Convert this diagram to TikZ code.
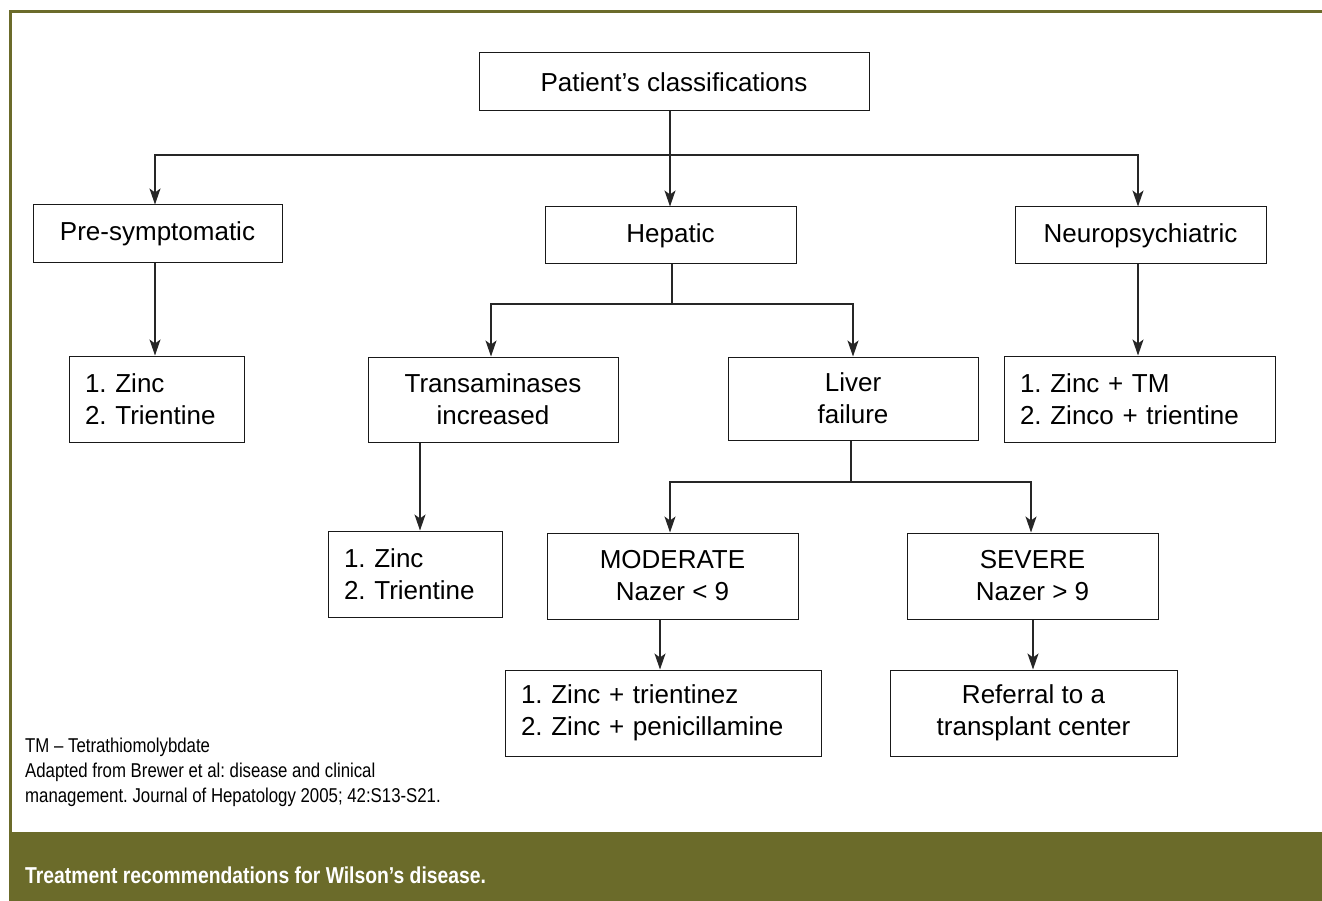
\documentclass[tikz,border=0pt]{standalone}
\usepackage{fontspec}
\setmainfont{Liberation Sans}
\newfontfamily\condfont[FakeStretch=0.84]{Liberation Sans}
\usetikzlibrary{arrows.meta}
\definecolor{olive}{HTML}{6B6B2A}
\frenchspacing
\tikzset{
  box/.style={draw=black!90, line width=1pt, align=center, font=\frenchspacing\fontsize{26}{32}\selectfont, inner sep=0pt, anchor=center},
  listbox/.style={box, align=left, inner xsep=16pt, text width=#1},
  conn/.style={line width=1.2pt, draw=black!85},
  arr/.style={conn, -{Stealth[length=16pt,width=11pt,inset=4pt]}},
  note/.style={font=\frenchspacing\condfont\fontsize{20}{25}\selectfont, anchor=north west, align=left, inner sep=0pt}
}
\begin{document}
\begin{tikzpicture}[x=1pt,y=-1pt]
\useasboundingbox (0,0) rectangle (1322,901);
% frame
\fill[white] (0,0) rectangle (1322,901);
\draw[olive, line width=2.5pt] (10.5,901) -- (10.5,11.5) -- (1322,11.5);
\fill[olive] (9,832) rectangle (1322,901);
\node[note, text=white, font=\condfont\bfseries\fontsize{23}{28}\selectfont, anchor=west] (cap) at (25,875) {Treatment recommendations for Wilson’s disease.};
% nodes
\node[box, minimum width=390pt, minimum height=58pt] (pc) at (674,82) {Patient’s classifications};
\node[box, minimum width=249pt, minimum height=58pt] (pre) at (157.5,234) {Pre-symptomatic};
\node[box, minimum width=251pt, minimum height=57pt] (hep) at (670.5,235.5) {Hepatic};
\node[box, minimum width=251pt, minimum height=57pt] (neu) at (1140.5,235.5) {Neuropsychiatric};
\node[listbox=143pt, minimum height=86pt] (pret) at (156.5,399) {1. Zinc\\2. Trientine};
\node[box, minimum width=250pt, minimum height=85pt] (tra) at (493,399.5) {Transaminases\\increased};
\node[box, minimum width=250pt, minimum height=83pt] (liv) at (853,398.5) {Liver\\failure};
\node[listbox=239pt, minimum height=86pt] (neut) at (1139.5,399) {1. Zinc + TM\\2. Zinco + trientine};
\node[listbox=142pt, minimum height=86pt] (trat) at (415,574) {1. Zinc\\2. Trientine};
\node[box, minimum width=251pt, minimum height=86pt] (mod) at (672.5,576) {MODERATE\\Nazer < 9};
\node[box, minimum width=251pt, minimum height=86pt] (sev) at (1032.5,576) {SEVERE\\Nazer > 9};
\node[listbox=284pt, minimum height=86pt] (modt) at (663,713) {1. Zinc + trientinez\\2. Zinc + penicillamine};
\node[box, minimum width=287pt, minimum height=86pt] (sevt) at (1033.5,713) {Referral to a\\transplant center};
% connectors
\coordinate (j1) at (670,155);
\draw[conn] (pc.south -| j1) -- (j1);
\draw[arr] (j1) -| (pre.north -| 155,0);
\draw[arr] (j1) -- (hep.north -| j1);
\draw[arr] (j1) -| (neu.north -| 1138,0);
\draw[arr] (pre.south -| 155,0) -- (pret.north -| 155,0);
\draw[arr] (neu.south -| 1138,0) -- (neut.north -| 1138,0);
\coordinate (j2) at (672,304);
\draw[conn] (hep.south -| j2) -- (j2);
\draw[arr] (j2) -| (tra.north -| 491,0);
\draw[arr] (j2) -| (liv.north -| 853,0);
\draw[arr] (tra.south -| 420,0) -- (trat.north -| 420,0);
\coordinate (j3) at (851,482);
\draw[conn] (liv.south -| j3) -- (j3);
\draw[arr] (j3) -| (mod.north -| 670,0);
\draw[arr] (j3) -| (sev.north -| 1031,0);
\draw[arr] (mod.south -| 660,0) -- (modt.north -| 660,0);
\draw[arr] (sev.south -| 1033,0) -- (sevt.north -| 1033,0);
% notes
\node[note] (n1) at (25,738) {TM – Tetrathiomolybdate\\Adapted from Brewer et al: disease and clinical\\management. Journal of Hepatology 2005; 42:S13-S21.};
\end{tikzpicture}
\end{document}
